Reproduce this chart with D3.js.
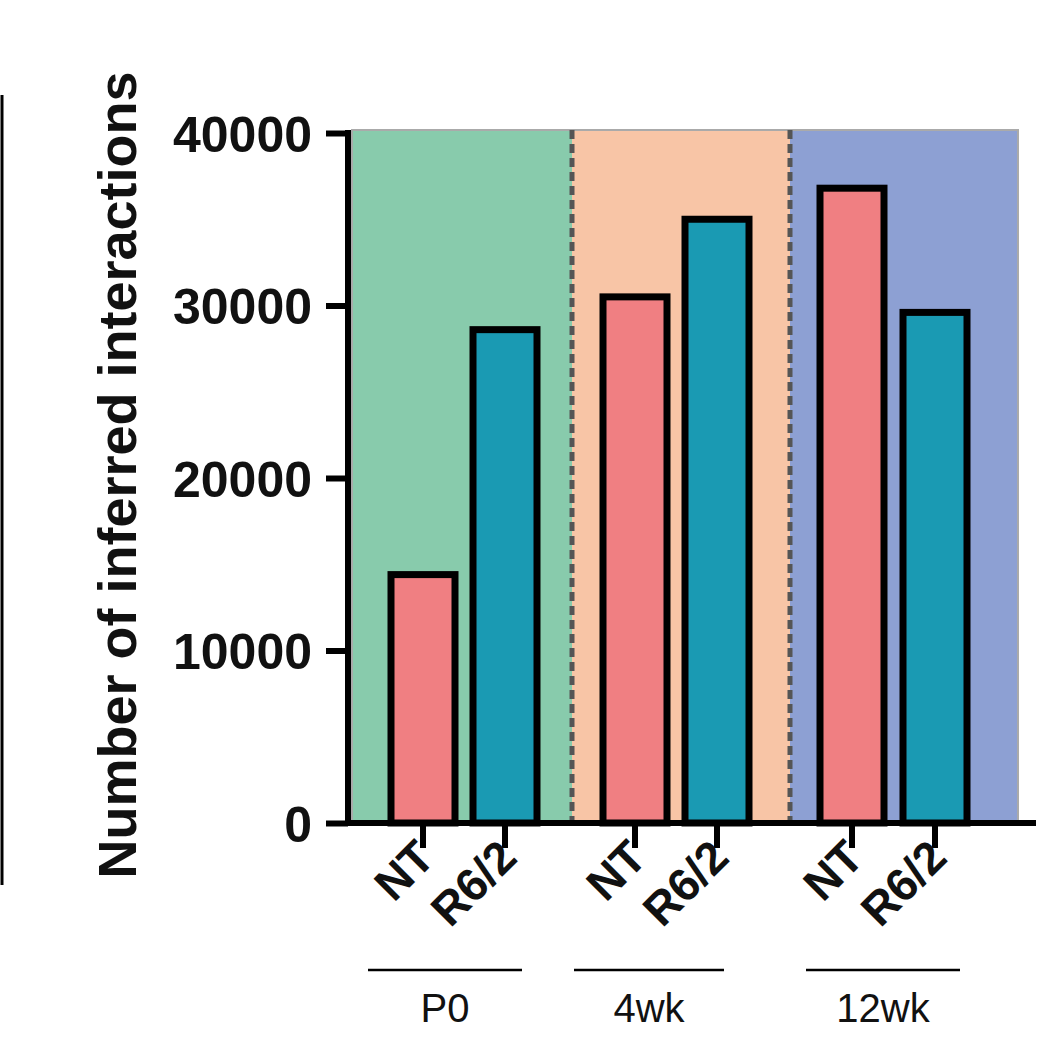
<!DOCTYPE html><html><head><script src="https://cdn.jsdelivr.net/npm/d3@7"></script>
<style>body{margin:0;background:#fff}</style></head><body><svg id="c" width="1058" height="1042"></svg>
<script>
const groups=["P0","4wk","12wk"];
const conditions=["NT","R6/2"];
const valuesNT=[14400,30500,36800];
const valuesR62=[28600,35000,29600];
const yTicks=[0,10000,20000,30000,40000];
const panelColors=["#88cbac","#f8c5a6","#8da0d3"];
const barColors={"NT":"#f07f82","R6/2":"#1a9ab3"};
const svg=d3.select("#c");
const y=d3.scaleLinear().domain([0,40000]).range([823,133]);
const panelEdges=[352,572,790,1018];
groups.forEach((g,i)=>{
 svg.append("rect").attr("x",panelEdges[i]).attr("y",130).attr("width",panelEdges[i+1]-panelEdges[i]).attr("height",823-130).attr("fill",panelColors[i]);
});
svg.append("rect").attr("x",352).attr("y",130).attr("width",666).attr("height",693).attr("fill","none").attr("stroke","#aaa").attr("stroke-width",2);
[572,790].forEach(x=>svg.append("line").attr("x1",x).attr("x2",x).attr("y1",130).attr("y2",823).attr("stroke","#555").attr("stroke-width",5).attr("stroke-dasharray","9,5"));
const barData=[];
groups.forEach((g,i)=>{barData.push({g,c:"NT",v:valuesNT[i]});barData.push({g,c:"R6/2",v:valuesR62[i]});});
const centers=[423,505,635,717,852,935];
const xScale=d3.scaleOrdinal().domain(barData.map((d,i)=>i)).range(centers);
const bw=64;
svg.selectAll(".bar").data(barData).enter().append("rect")
 .attr("x",(d,i)=>xScale(i)-bw/2).attr("width",bw)
 .attr("y",d=>y(d.v)).attr("height",d=>y(0)-y(d.v))
 .attr("fill",d=>barColors[d.c]).attr("stroke","#000").attr("stroke-width",7);
const ya=svg.append("g").attr("transform","translate(348,0)").call(d3.axisLeft(y).tickValues(yTicks).tickSize(22).tickFormat(d3.format("d")));
ya.select(".domain").attr("stroke-width",6).attr("d","M0,130V823");
ya.selectAll(".tick line").attr("stroke-width",6);
ya.selectAll("text").attr("font-family","Arial, Liberation Sans").attr("font-weight","bold").attr("font-size",50).attr("fill","#111").attr("x",-36).attr("dy","0.36em");
svg.append("line").attr("x1",345).attr("x2",1036).attr("y1",823).attr("y2",823).attr("stroke","#000").attr("stroke-width",6);
barData.forEach((d,i)=>{
 const cx=xScale(i);
 svg.append("line").attr("x1",cx).attr("x2",cx).attr("y1",823).attr("y2",848).attr("stroke","#000").attr("stroke-width",6);
 svg.append("text").attr("transform",`translate(${cx+14},${860}) rotate(-45)`).attr("text-anchor","end")
  .attr("font-family","Arial, Liberation Sans").attr("font-weight","bold").attr("font-size",46).attr("fill","#111").text(d.c);
});
const gl=[[368,522],[574,724],[806,960]];
groups.forEach((g,i)=>{
 svg.append("line").attr("x1",gl[i][0]).attr("x2",gl[i][1]).attr("y1",970).attr("y2",970).attr("stroke","#000").attr("stroke-width",2.5);
 svg.append("text").attr("x",(gl[i][0]+gl[i][1])/2).attr("y",1022).attr("text-anchor","middle")
  .attr("font-family","Arial, Liberation Sans").attr("font-size",40).attr("fill","#111").text(g);
});
svg.append("text").attr("transform","translate(136,475) rotate(-90)").attr("text-anchor","middle")
 .attr("font-family","Arial, Liberation Sans").attr("font-weight","bold").attr("font-size",54).attr("fill","#111").text("Number of inferred interactions");
svg.append("line").attr("x1",2).attr("x2",2).attr("y1",95).attr("y2",885).attr("stroke","#000").attr("stroke-width",3);
</script></body></html>
